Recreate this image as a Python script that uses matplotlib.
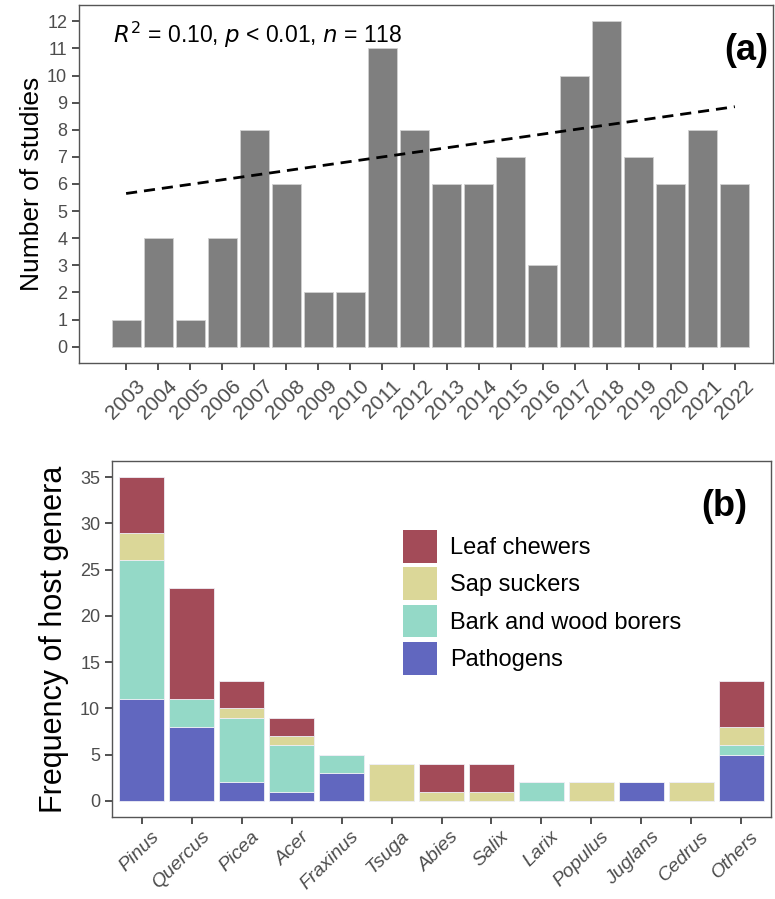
import numpy as np
import matplotlib.pyplot as plt
from matplotlib.patches import Patch
from matplotlib.transforms import ScaledTranslation

plt.rcParams['font.family'] = ['Liberation Sans', 'DejaVu Sans']

# (a) studies per year
years = list(range(2003, 2023))
n_studies = [1, 4, 1, 4, 8, 6, 2, 2, 11, 8, 6, 6, 7, 3, 10, 12, 7, 6, 8, 6]
trend_start, trend_end = 5.65, 8.85

# (b) host genera by feeding guild
genera = ['Pinus', 'Quercus', 'Picea', 'Acer', 'Fraxinus', 'Tsuga', 'Abies',
          'Salix', 'Larix', 'Populus', 'Juglans', 'Cedrus', 'Others']
pathogens = [11, 8, 2, 1, 3, 0, 0, 0, 0, 0, 2, 0, 5]
bark_borers = [15, 3, 7, 5, 2, 0, 0, 0, 2, 0, 0, 0, 1]
sap_suckers = [3, 0, 1, 1, 0, 4, 1, 1, 0, 2, 0, 2, 2]
leaf_chewers = [6, 12, 3, 2, 0, 0, 3, 3, 0, 0, 0, 0, 5]

guilds = [('Pathogens', pathogens, '#6167BF'),
          ('Bark and wood borers', bark_borers, '#94D9C7'),
          ('Sap suckers', sap_suckers, '#DBD798'),
          ('Leaf chewers', leaf_chewers, '#A34B58')]

W, H = 775, 899
fig = plt.figure(figsize=(W / 100, H / 100), dpi=100)

def box(l, t, r, b):
    return [l / W, 1 - b / H, (r - l) / W, (b - t) / H]

def style(ax, xsize, xpad):
    for s in ax.spines.values():
        s.set_color('#555555')
        s.set_linewidth(1.0)
    ax.tick_params(axis='both', direction='out', length=5, width=1.2,
                   color='#333333', labelcolor='#4D4D4D')
    ax.tick_params(axis='y', labelsize=13)
    ax.tick_params(axis='x', labelsize=xsize, pad=xpad)
    shift = ScaledTranslation(9 / 100, 0, fig.dpi_scale_trans)
    for lab in ax.get_xticklabels():
        lab.set_transform(lab.get_transform() + shift)

# ---- panel (a)
ax1 = fig.add_axes(box(79, 5, 773, 363))
x = np.arange(len(years))
ax1.bar(x, n_studies, width=0.9, color='#7F7F7F', edgecolor='#D0D0D0', linewidth=0.6)
ax1.plot([x[0], x[-1]], [trend_start, trend_end], color='black', lw=2,
         ls=(0, (4, 2.5)))
ax1.set_xlim(-1.47, 20.19)
ax1.set_ylim(-0.6, 12.6)
ax1.set_yticks(range(0, 13))
ax1.set_xticks(x)
ax1.set_xticklabels([str(y) for y in years], rotation=45, ha='right',
                    rotation_mode='anchor')
style(ax1, 15, 5)
ax1.set_ylabel('Number of studies', fontsize=19, labelpad=2)
ax1.text(0.049, 0.916, r'$R^2$ = 0.10, $p$ < 0.01, $n$ = 118',
         transform=ax1.transAxes, fontsize=16.5, va='center', ha='left')
ax1.text(0.993, 0.874, '(a)', transform=ax1.transAxes, fontsize=26,
         fontweight='bold', ha='right', va='center')

# ---- panel (b)
ax2 = fig.add_axes(box(112, 461, 771, 817))
xg = np.arange(len(genera))
bottom = np.zeros(len(genera))
for name, vals, col in guilds:
    vals = np.array(vals, dtype=float)
    ax2.bar(xg, vals, bottom=bottom, width=0.9, color=col,
            edgecolor='#EEEEF5', linewidth=0.6)
    bottom += vals
ax2.set_xlim(-0.6, 12.6)
ax2.set_ylim(-1.75, 36.75)
ax2.set_yticks(range(0, 36, 5))
ax2.set_xticks(xg)
ax2.set_xticklabels(genera, rotation=45, ha='right', rotation_mode='anchor',
                    fontstyle='italic')
style(ax2, 14, 3)
ax2.set_ylabel('Frequency of host genera', fontsize=22, labelpad=8)
ax2.text(0.964, 0.871, '(b)', transform=ax2.transAxes, fontsize=26,
         fontweight='bold', ha='right', va='center')

handles = [Patch(facecolor=col, edgecolor='none', label=name)
           for name, vals, col in guilds[::-1]]
ax2.legend(handles=handles, loc='upper left', bbox_to_anchor=(0.4416, 0.806),
           frameon=False, fontsize=17, handlelength=1.44, handleheight=1.75,
           handletextpad=0.55, labelspacing=0.2, borderaxespad=0, borderpad=0)

fig.savefig('out.png', dpi=100)
